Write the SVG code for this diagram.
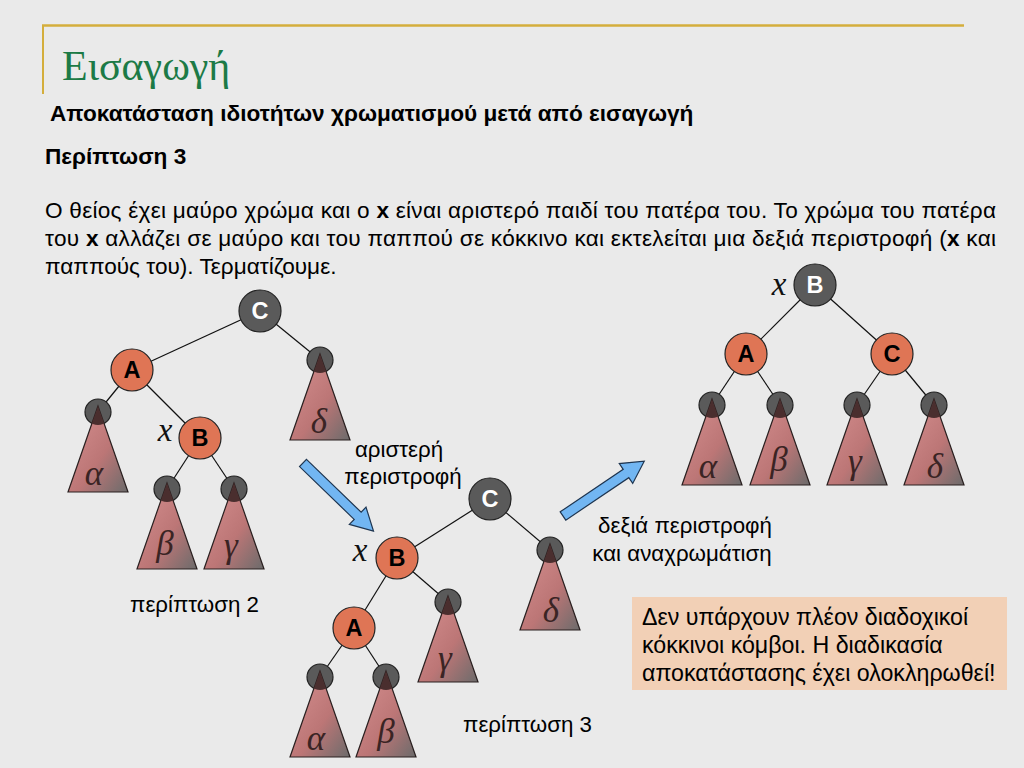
<svg xmlns="http://www.w3.org/2000/svg" xmlns:xlink="http://www.w3.org/1999/xlink" width="1024" height="768" viewBox="0 0 1024 768">
<style>
.t{font-family:"Liberation Sans",Arial,"Noto Sans",sans-serif;fill:#000}
.b{font-weight:bold}
.nl{font-family:"Liberation Sans",Arial,sans-serif;font-weight:bold;font-size:23.5px;text-anchor:middle}
.gr{font-family:"Liberation Serif","DejaVu Serif",serif;font-style:italic;font-size:35px;fill:#3a2424;text-anchor:middle}
.xl{font-family:"Liberation Serif","DejaVu Serif",serif;font-style:italic;font-size:33px;fill:#111;text-anchor:middle}
.blk{fill:#5A5A5A;stroke:#222;stroke-width:1.2}
.red{fill:#DF7555;stroke:#222;stroke-width:1.2}
.edge{stroke:#111;stroke-width:1.2}
.arr{fill:#72B6F2;stroke:#1e3550;stroke-width:1.2}
</style>
<defs>
<linearGradient id="tg" x1="0.15" y1="0.15" x2="1" y2="1">
<stop offset="0" stop-color="#D08A8A"/>
<stop offset="0.5" stop-color="#BC7676"/>
<stop offset="1" stop-color="#6B6B6B"/>
</linearGradient>
<clipPath id="lc"><circle cx="0" cy="0" r="13"/></clipPath>
<g id="leaf">
<circle r="13" fill="#5A5A5A" stroke="#222" stroke-width="1.2"/>
<polygon points="0,-6 -30,80 30,80" fill="url(#tg)" stroke="#2a2020" stroke-width="1.2"/>
<polygon points="0,-6 -30,80 30,80" fill="#4A2E2E" clip-path="url(#lc)"/>
</g>
<polygon id="arrow" points="0,-5 76,-5 76,-12 98,0 76,12 76,5 0,5"/>
</defs>
<rect width="1024" height="768" fill="#EAEAEA"/>
<g id="frame">
<line x1="42" y1="25.5" x2="964" y2="25.5" stroke="#D4AE3C" stroke-width="2.5"/>
<line x1="43" y1="25" x2="43" y2="94" stroke="#D4AE3C" stroke-width="2"/>
</g>
<g id="texts">
<text x="62" y="80" style="font-family:'Liberation Serif','Times New Roman',serif;font-size:42px;fill:#1C7A46">Εισαγωγή</text>
<text class="t b" x="50" y="121" font-size="22.6">Αποκατάσταση ιδιοτήτων χρωματισμού μετά από εισαγωγή</text>
<text class="t b" x="45" y="164" font-size="22.6">Περίπτωση 3</text>
<text class="t" x="45" y="218" font-size="22.6" textLength="951" lengthAdjust="spacing">Ο θείος έχει μαύρο χρώμα και ο <tspan class="b">x</tspan> είναι αριστερό παιδί του πατέρα του. Το χρώμα του πατέρα</text>
<text class="t" x="45" y="246" font-size="22.6" textLength="951" lengthAdjust="spacing">του <tspan class="b">x</tspan> αλλάζει σε μαύρο και του παππού σε κόκκινο και εκτελείται μια δεξιά περιστροφή (<tspan class="b">x</tspan> και</text>
<text class="t" x="45" y="274" font-size="22.6">παππούς του). Τερματίζουμε.</text>
<text class="t" x="399" y="457" font-size="22.3" text-anchor="middle">αριστερή</text>
<text class="t" x="403" y="484" font-size="22.3" text-anchor="middle">περιστροφή</text>
<text class="t" x="685" y="533" font-size="22.3" text-anchor="middle">δεξιά περιστροφή</text>
<text class="t" x="682" y="561" font-size="22.3" text-anchor="middle">και αναχρωμάτιση</text>
<text class="t" x="130" y="612" font-size="22.3">περίπτωση 2</text>
<text class="t" x="463" y="732" font-size="22.3">περίπτωση 3</text>
</g>
<g id="note">
<rect x="632" y="597" width="375" height="93" fill="#F2D0B6"/>
<text class="t" x="642" y="625" font-size="23.2">Δεν υπάρχουν πλέον διαδοχικοί</text>
<text class="t" x="642" y="653" font-size="23.2">κόκκινοι κόμβοι. Η διαδικασία</text>
<text class="t" x="642" y="681" font-size="23.2">αποκατάστασης έχει ολοκληρωθεί!</text>
</g>
<g id="connectors">
<line class="edge" x1="260" y1="311" x2="132" y2="370"/>
<line class="edge" x1="260" y1="311" x2="320" y2="360"/>
<line class="edge" x1="132" y1="370" x2="98" y2="412"/>
<line class="edge" x1="132" y1="370" x2="200" y2="438"/>
<line class="edge" x1="200" y1="438" x2="167" y2="489"/>
<line class="edge" x1="200" y1="438" x2="234" y2="489"/>
<line class="edge" x1="490" y1="499" x2="397" y2="558"/>
<line class="edge" x1="490" y1="499" x2="550" y2="550"/>
<line class="edge" x1="397" y1="558" x2="354" y2="628"/>
<line class="edge" x1="397" y1="558" x2="448" y2="602"/>
<line class="edge" x1="354" y1="628" x2="320" y2="677"/>
<line class="edge" x1="354" y1="628" x2="386" y2="677"/>
<line class="edge" x1="815" y1="285" x2="746" y2="354"/>
<line class="edge" x1="815" y1="285" x2="892" y2="354"/>
<line class="edge" x1="746" y1="354" x2="712" y2="405"/>
<line class="edge" x1="746" y1="354" x2="780" y2="405"/>
<line class="edge" x1="892" y1="354" x2="857" y2="405"/>
<line class="edge" x1="892" y1="354" x2="934" y2="405"/>
<use xlink:href="#arrow" href="#arrow" class="arr" transform="translate(303,463) rotate(44)"/>
<use xlink:href="#arrow" href="#arrow" class="arr" transform="translate(563,516) rotate(-34)"/>
</g>
<!-- tree 1 -->
<g id="t1-C"><circle class="blk" cx="260" cy="311" r="21"/><text class="nl" x="260" y="319" fill="#fff">C</text></g>
<g id="t1-A"><circle class="red" cx="132" cy="370" r="21"/><text class="nl" x="132" y="378">A</text></g>
<g id="t1-B"><circle class="red" cx="200" cy="438" r="21"/><text class="nl" x="200" y="446">B</text><text class="xl" x="165" y="441">x</text></g>
<g id="t1-delta"><use xlink:href="#leaf" href="#leaf" transform="translate(320,360)"/><text class="gr" x="319" y="433">δ</text></g>
<g id="t1-alpha"><use xlink:href="#leaf" href="#leaf" transform="translate(98,412)"/><text class="gr" x="94" y="485">α</text></g>
<g id="t1-beta"><use xlink:href="#leaf" href="#leaf" transform="translate(167,489)"/><text class="gr" x="165" y="555">β</text></g>
<g id="t1-gamma"><use xlink:href="#leaf" href="#leaf" transform="translate(234,489)"/><text class="gr" x="231" y="557">γ</text></g>
<!-- tree 2 -->
<g id="t2-C"><circle class="blk" cx="490" cy="499" r="21"/><text class="nl" x="490" y="507" fill="#fff">C</text></g>
<g id="t2-B"><circle class="red" cx="397" cy="558" r="21"/><text class="nl" x="397" y="566">B</text><text class="xl" x="360" y="561">x</text></g>
<g id="t2-A"><circle class="red" cx="354" cy="628" r="21"/><text class="nl" x="354" y="636">A</text></g>
<g id="t2-delta"><use xlink:href="#leaf" href="#leaf" transform="translate(550,550)"/><text class="gr" x="551" y="622">δ</text></g>
<g id="t2-gamma"><use xlink:href="#leaf" href="#leaf" transform="translate(448,602)"/><text class="gr" x="445" y="670">γ</text></g>
<g id="t2-alpha"><use xlink:href="#leaf" href="#leaf" transform="translate(320,677)"/><text class="gr" x="316" y="750">α</text></g>
<g id="t2-beta"><use xlink:href="#leaf" href="#leaf" transform="translate(386,677)"/><text class="gr" x="386" y="743">β</text></g>
<!-- tree 3 -->
<g id="t3-B"><circle class="blk" cx="815" cy="285" r="21"/><text class="nl" x="815" y="293" fill="#fff">B</text><text class="xl" x="779" y="295">x</text></g>
<g id="t3-A"><circle class="red" cx="746" cy="354" r="21"/><text class="nl" x="746" y="362">A</text></g>
<g id="t3-C"><circle class="red" cx="892" cy="354" r="21"/><text class="nl" x="892" y="362">C</text></g>
<g id="t3-alpha"><use xlink:href="#leaf" href="#leaf" transform="translate(712,405)"/><text class="gr" x="708" y="478">α</text></g>
<g id="t3-beta"><use xlink:href="#leaf" href="#leaf" transform="translate(780,405)"/><text class="gr" x="779" y="471">β</text></g>
<g id="t3-gamma"><use xlink:href="#leaf" href="#leaf" transform="translate(857,405)"/><text class="gr" x="855" y="473">γ</text></g>
<g id="t3-delta"><use xlink:href="#leaf" href="#leaf" transform="translate(934,405)"/><text class="gr" x="935" y="478">δ</text></g>
</svg>
